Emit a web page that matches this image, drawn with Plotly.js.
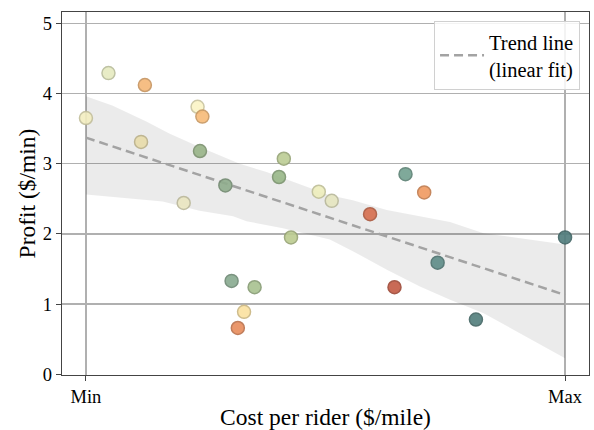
<!DOCTYPE html>
<html>
<head>
<meta charset="utf-8">
<script src="https://cdn.plot.ly/plotly-3.0.1.min.js"></script>
<style>html,body{margin:0;padding:0;background:#fff;}</style>
</head>
<body>
<div id="chart" style="width:594px;height:430px;"></div>
<script>
// Scatter points (cost normalized between Min=0 and Max=1)
const costX = [0, 0.047, 0.123, 0.115, 0.233, 0.243, 0.238, 0.204, 0.291, 0.304, 0.352, 0.330, 0.317,
               0.413, 0.403, 0.428, 0.486, 0.513, 0.593, 0.644, 0.667, 0.706, 0.734, 0.814, 1.0];
const profitY = [3.65, 4.29, 4.12, 3.31, 3.81, 3.67, 3.18, 2.44, 2.69, 1.33, 1.24, 0.89, 0.66,
                 3.07, 2.81, 1.95, 2.60, 2.47, 2.28, 1.24, 2.85, 2.59, 1.59, 0.78, 1.95];
const pointColors = ['#f3eec0', '#e6ebc0', '#f6b877', '#e8dcaa', '#fbf5c6', '#f7bb78', '#98b488', '#eae6c0',
                     '#8fac8c', '#88aa90', '#a8c290', '#fbe2a0', '#e88c5c', '#bccd94', '#98b888', '#bccc90',
                     '#eeeebc', '#e6e6c0', '#d66e4e', '#c45a44', '#72a090', '#f09a60', '#5e8c88', '#527e7c', '#4f7c7c'];

// Trend line (linear fit)
const trendX = [0, 1];
const trendY = [3.37, 1.13];

// Confidence band edges
const bandUpperX = [0, 0.055, 0.126, 0.174, 0.230, 0.321, 0.377, 0.509, 0.557, 0.628, 0.683, 0.760, 0.830, 1.0];
const bandUpperY = [3.96, 3.83, 3.60, 3.43, 3.26, 3.00, 2.88, 2.55, 2.48, 2.34, 2.27, 2.17, 2.01, 1.85];
const bandLowerX = [0, 0.091, 0.160, 0.237, 0.307, 0.335, 0.411, 0.509, 0.558, 0.628, 0.697, 0.760, 0.830, 1.0];
const bandLowerY = [2.56, 2.50, 2.46, 2.33, 2.25, 2.18, 2.08, 1.92, 1.75, 1.49, 1.25, 1.06, 0.87, 0.23];

const xTickVals = [0, 1];
const xTickText = ['Min', 'Max'];

function darken(hex, f) {
  const n = parseInt(hex.slice(1), 16);
  const r = Math.round(((n >> 16) & 255) * f), g = Math.round(((n >> 8) & 255) * f), b = Math.round((n & 255) * f);
  return 'rgb(' + r + ',' + g + ',' + b + ')';
}

const fontFam = '"Liberation Serif", "DejaVu Serif", serif';

const traces = [
  {
    x: bandLowerX, y: bandLowerY, mode: 'lines', line: {width: 0, color: 'rgba(0,0,0,0)'},
    showlegend: false, hoverinfo: 'skip', type: 'scatter'
  },
  {
    x: bandUpperX, y: bandUpperY, mode: 'lines', line: {width: 0, color: 'rgba(0,0,0,0)'},
    fill: 'tonextx', fillcolor: 'rgba(0,0,0,0.08)', showlegend: false, hoverinfo: 'skip', type: 'scatter'
  },
  {
    x: trendX, y: trendY, mode: 'lines', name: 'Trend line<br>(linear fit)',
    line: {color: '#a3a3a3', width: 2.5, dash: '9px,5px'}, type: 'scatter'
  },
  {
    x: costX, y: profitY, mode: 'markers', showlegend: false, type: 'scatter',
    marker: {
      size: 13, color: pointColors, opacity: 0.9,
      line: {width: 1.5, color: pointColors.map(c => darken(c, 0.8))}
    }
  }
];

const layout = {
  width: 594, height: 430,
  margin: {l: 62, r: 5, t: 12, b: 55},
  paper_bgcolor: '#fff', plot_bgcolor: '#fff',
  font: {family: fontFam, size: 18, color: '#000'},
  showlegend: true,
  xaxis: {
    range: [-0.05, 1.05], tickvals: xTickVals, ticktext: xTickText,
    showgrid: true, gridcolor: '#b0b0b0', gridwidth: 1.3, zeroline: false,
    showline: true, mirror: true, linecolor: '#444', linewidth: 1.2,
    ticks: 'outside', ticklen: 5, tickcolor: '#444',
    tickfont: {family: fontFam, size: 18.5, color: '#000'},
    title: {text: 'Cost per rider ($/mile)', font: {family: fontFam, size: 23.5, color: '#000'}, standoff: 4}
  },
  yaxis: {
    range: [-0.01, 5.16], tickvals: [0, 1, 2, 3, 4, 5],
    showgrid: true, gridcolor: '#b0b0b0', gridwidth: 1.3, zeroline: false,
    showline: true, mirror: true, linecolor: '#444', linewidth: 1.2,
    ticks: 'outside', ticklen: 5, tickcolor: '#444',
    tickfont: {family: fontFam, size: 18.5, color: '#000'},
    title: {text: 'Profit ($/min)', font: {family: fontFam, size: 23.5, color: '#000'}, standoff: 0}
  },
  legend: {
    x: 0.983, y: 0.975, xanchor: 'right', yanchor: 'top',
    bgcolor: 'rgba(255,255,255,0.85)', bordercolor: '#d0d0d0', borderwidth: 1,
    itemwidth: 44,
    font: {family: fontFam, size: 20.5, color: '#000'}
  }
};

Plotly.newPlot('chart', traces, layout, {displayModeBar: false, staticPlot: true});
</script>
</body>
</html>
